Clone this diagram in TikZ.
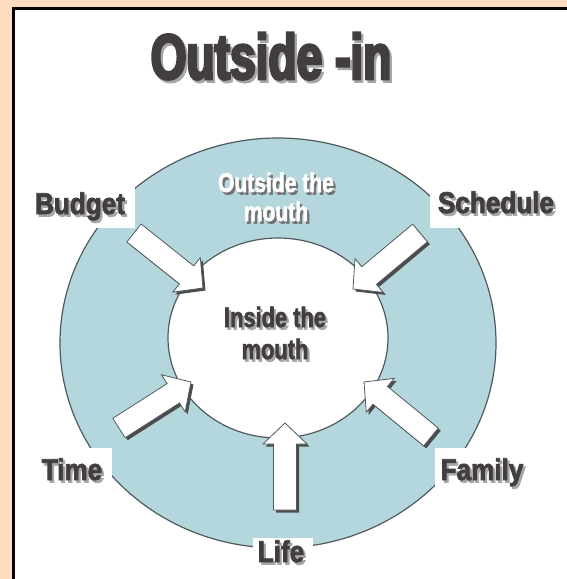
\documentclass[tikz,border=0pt]{standalone}
\usepackage{fontspec}
\usetikzlibrary{calc}
\newfontfamily\titlefont{Liberation Sans Bold}[FakeStretch=0.72,FakeBold=4]
\newfontfamily\labfont{Liberation Sans Bold}[FakeStretch=0.87,FakeBold=2.5]
\newfontfamily\midfont{Liberation Sans Bold}[FakeStretch=0.78,FakeBold=2]
\definecolor{peach}{HTML}{FDDCC0}
\definecolor{ringblue}{HTML}{B4D7DE}
\definecolor{edgecol}{HTML}{4F5A5E}
\definecolor{ink}{HTML}{433E3E}
\newcommand\shd[2][black!35]{\makebox[0pt][l]{\kern2.2pt\raisebox{-2.6pt}{\textcolor{#1}{#2}}}#2}
\tikzset{
  txt/.style={anchor=base, inner sep=0pt, text=ink},
  titletxt/.style={txt, font=\titlefont\fontsize{64}{64}\selectfont},
  labtxt/.style={txt, font=\labfont\fontsize{30}{30}\selectfont},
  midtxt/.style={txt, align=center, font=\midfont\fontsize{28}{32}\selectfont},
  outtxt/.style={txt, align=center, font=\midfont\fontsize{27}{29}\selectfont},
  arshadow/.style={fill=black!70},
  arbody/.style={fill=white, draw=edgecol, line width=0.8pt, line join=miter},
  ringline/.style={draw=edgecol, line width=1.2pt},
}
\newcommand\arpath[2]{($(#1-t)!11.5pt!90:(#1-p)+(#2)$) -- ($(#1-h)!11.5pt!90:(#1-p)+(#2)$) -- ($(#1-h)!22pt!90:(#1-p)+(#2)$) -- ($(#1-p)+(#2)$) -- ($(#1-h)!22pt!-90:(#1-p)+(#2)$) -- ($(#1-h)!11.5pt!-90:(#1-p)+(#2)$) -- ($(#1-t)!11.5pt!-90:(#1-p)+(#2)$) -- cycle}
\newcommand\blockarrow[3]{%
  \coordinate (#1-t) at #2;
  \coordinate (#1-p) at #3;
  \coordinate (#1-h) at ($(#1-p)!21pt!(#1-t)$);
  \fill[arshadow] \arpath{#1}{2.5,2.5};
  \filldraw[arbody] \arpath{#1}{0,0};
}
\begin{document}
\begin{tikzpicture}[x=1pt,y=-1pt]
\useasboundingbox (0,0) rectangle (567,579);
% background
\fill[peach] (0,0) rectangle (567,579);
\fill[white] (13.5,8.5) rectangle (567,579);
\draw[black, line width=3pt] (13.5,579) -- (13.5,8.5) -- (567,8.5);
% ring
\coordinate (c) at (278,343);
\filldraw[fill=ringblue, ringline] (c) ellipse [x radius=218, y radius=205];
\filldraw[fill=white, ringline] (278,338) ellipse [x radius=110, y radius=100];
% label boxes
\fill[white] (20,178) rectangle (135,228);
\fill[white] (430,178) rectangle (566,228);
\fill[white] (20,448) rectangle (112,496);
\fill[white] (435,448) rectangle (566,496);
\fill[white] (253,538) rectangle (313,579);
% title
\node[titletxt] (title) at (271,79) {\shd{Outside -in}};
% labels
\node[labtxt] (budget) at (80,214) {\shd{Budget}};
\node[labtxt] (schedule) at (496,213) {\shd{Schedule}};
\node[labtxt] (time) at (72,480) {\shd{Time}};
\node[labtxt] (family) at (482,480) {\shd{Family}};
\node[labtxt] (life) at (281,562) {\shd{Life}};
% arrows
\blockarrow{budget-ar}{(134,233)}{(203,288)}
\blockarrow{schedule-ar}{(420,233)}{(353,289)}
\blockarrow{time-ar}{(119,428)}{(191,382)}
\blockarrow{family-ar}{(431,437)}{(364,382)}
\blockarrow{life-ar}{(285,510)}{(285,423)}
% ring texts
\node[outtxt, text=white] (outside) at (276,221) {\shd[black!55]{Outside the}\\\shd[black!55]{mouth}};
\node[midtxt] (inside) at (275,359) {\shd{Inside the}\\\shd{mouth}};
\end{tikzpicture}
\end{document}
